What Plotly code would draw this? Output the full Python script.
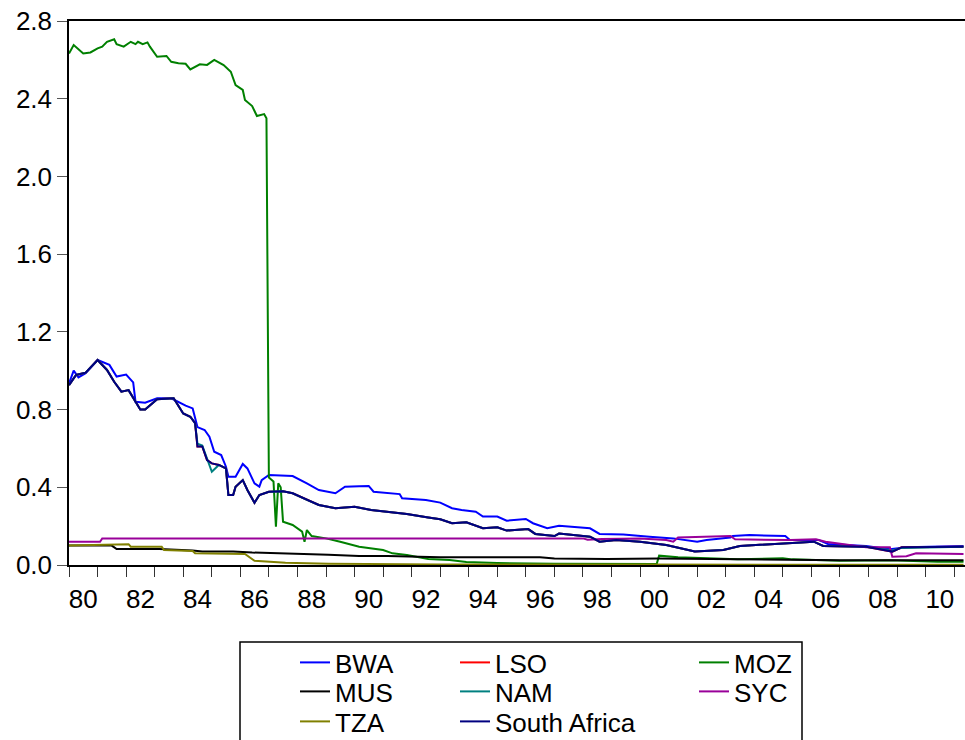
import plotly.graph_objects as go

# ---------------- data ----------------
BWA_DATES = ["1980-01", "1980-03", "1980-05", "1980-08", "1981-01", "1981-06", "1981-09", "1982-01",
             "1982-04", "1982-05", "1982-09", "1983-02", "1983-08", "1984-02", "1984-05", "1984-07",
             "1984-10", "1984-12", "1985-02", "1985-05", "1985-07", "1985-08", "1985-11", "1986-02",
             "1986-04", "1986-07", "1986-09", "1986-10", "1987-01", "1987-11", "1988-05", "1988-10",
             "1989-05", "1989-09", "1990-03", "1990-07", "1990-09", "1991-08", "1991-09", "1992-07",
             "1993-01", "1993-06", "1993-10", "1994-04", "1994-07", "1995-01", "1995-05", "1996-01",
             "1996-04", "1996-10", "1997-03", "1998-04", "1998-08", "1999-06", "2000-05", "2001-03",
             "2002-01", "2002-05", "2003-03", "2003-04", "2003-11", "2005-02", "2005-04", "2006-04",
             "2006-08", "2007-12", "2008-10", "2009-05", "2011-05"]
BWA = [0.935, 1.000, 0.966, 0.987, 1.055, 1.030, 0.970, 0.980,
       0.940, 0.840, 0.835, 0.858, 0.858, 0.820, 0.806, 0.710,
       0.695, 0.660, 0.583, 0.566, 0.506, 0.454, 0.454, 0.520,
       0.497, 0.420, 0.403, 0.437, 0.463, 0.458, 0.420, 0.386,
       0.369, 0.403, 0.405, 0.407, 0.377, 0.365, 0.343, 0.335,
       0.321, 0.292, 0.283, 0.274, 0.249, 0.249, 0.228, 0.237,
       0.215, 0.189, 0.202, 0.189, 0.160, 0.157, 0.146, 0.137,
       0.120, 0.129, 0.142, 0.149, 0.154, 0.149, 0.129, 0.129,
       0.108, 0.098, 0.081, 0.091, 0.098]

SA_DATES = ["1980-01", "1980-04", "1980-08", "1981-01", "1981-05", "1981-08", "1981-11", "1982-02",
            "1982-07", "1982-09", "1983-02", "1983-09", "1984-01", "1984-04", "1984-06", "1984-07",
            "1984-09", "1984-11", "1985-01", "1985-04", "1985-07", "1985-08", "1985-10", "1985-11",
            "1986-02", "1986-04", "1986-07", "1986-09", "1987-01", "1987-07", "1987-11", "1988-05",
            "1988-10", "1989-05", "1990-01", "1990-08", "1991-11", "1992-08", "1993-01", "1993-06",
            "1993-12", "1994-07", "1995-01", "1995-05", "1996-02", "1996-05", "1997-01", "1997-03",
            "1998-04", "1998-08", "1999-03", "2000-01", "2000-12", "2001-12", "2002-12", "2003-07",
            "2004-11", "2006-02", "2006-06", "2007-12", "2008-11", "2009-03", "2011-05"]
SOUTH_AFRICA = [0.926, 0.978, 0.990, 1.055, 1.004, 0.943, 0.892, 0.900,
                0.800, 0.800, 0.853, 0.858, 0.780, 0.763, 0.730, 0.610,
                0.610, 0.540, 0.523, 0.515, 0.497, 0.360, 0.360, 0.403,
                0.437, 0.386, 0.320, 0.360, 0.377, 0.380, 0.369, 0.335,
                0.309, 0.292, 0.300, 0.283, 0.262, 0.245, 0.235, 0.215,
                0.220, 0.189, 0.194, 0.177, 0.185, 0.160, 0.149, 0.162,
                0.146, 0.120, 0.129, 0.120, 0.103, 0.069, 0.077, 0.098,
                0.111, 0.120, 0.098, 0.094, 0.069, 0.091, 0.094]
LSO = [0.926, 0.978, 0.990, 1.055, 1.004, 0.943, 0.892, 0.900,
       0.800, 0.800, 0.853, 0.858, 0.780, 0.763, 0.730, 0.610,
       0.610, 0.540, 0.523, 0.515, 0.497, 0.360, 0.360, 0.403,
       0.437, 0.386, 0.320, 0.360, 0.377, 0.380, 0.369, 0.335,
       0.309, 0.292, 0.300, 0.283, 0.262, 0.245, 0.235, 0.215,
       0.220, 0.189, 0.194, 0.177, 0.185, 0.160, 0.149, 0.162,
       0.146, 0.120, 0.129, 0.120, 0.103, 0.069, 0.077, 0.098,
       0.111, 0.120, 0.098, 0.094, 0.069, 0.091, 0.094]
NAM = [0.926, 0.978, 0.990, 1.055, 1.004, 0.943, 0.892, 0.900,
       0.800, 0.800, 0.853, 0.858, 0.780, 0.763, 0.730, 0.625,
       0.615, 0.550, 0.480, 0.515, 0.497, 0.360, 0.360, 0.403,
       0.437, 0.386, 0.320, 0.360, 0.377, 0.380, 0.369, 0.335,
       0.309, 0.292, 0.300, 0.283, 0.262, 0.245, 0.235, 0.215,
       0.220, 0.189, 0.194, 0.177, 0.185, 0.160, 0.149, 0.162,
       0.146, 0.120, 0.129, 0.120, 0.103, 0.069, 0.077, 0.098,
       0.111, 0.120, 0.098, 0.094, 0.075, 0.088, 0.094]

MOZ_DATES = ["1980-01", "1980-03", "1980-07", "1980-10", "1981-01", "1981-03", "1981-05", "1981-08",
             "1981-09", "1981-12", "1982-03", "1982-05", "1982-06", "1982-08", "1982-10", "1982-11",
             "1983-02", "1983-06", "1983-08", "1983-11", "1984-02", "1984-04", "1984-08", "1984-11",
             "1985-02", "1985-06", "1985-09", "1985-11", "1986-02", "1986-03", "1986-06", "1986-08",
             "1986-11", "1986-12", "1987-01", "1987-02", "1987-03", "1987-04", "1987-05", "1987-06",
             "1987-07", "1987-11", "1988-03", "1988-04", "1988-05", "1988-07", "1989-01", "1989-07",
             "1990-03", "1991-01", "1991-05", "1991-11", "1992-08", "1993-05", "1993-12", "1995-01",
             "1997-01", "2000-08", "2000-09", "2001-05", "2003-06", "2005-01", "2005-05", "2007-01",
             "2008-10", "2010-06", "2011-05"]
MOZ = [2.633, 2.676, 2.633, 2.638, 2.659, 2.668, 2.693, 2.706,
       2.681, 2.668, 2.693, 2.681, 2.693, 2.681, 2.690, 2.668,
       2.616, 2.620, 2.590, 2.582, 2.580, 2.551, 2.577, 2.574,
       2.600, 2.573, 2.539, 2.470, 2.445, 2.393, 2.362, 2.311,
       2.321, 2.299, 0.450, 0.440, 0.430, 0.197, 0.420, 0.400,
       0.223, 0.206, 0.172, 0.120, 0.180, 0.149, 0.137, 0.120,
       0.094, 0.077, 0.060, 0.051, 0.031, 0.026, 0.015, 0.010,
       0.006, 0.005, 0.048, 0.040, 0.029, 0.035, 0.029, 0.022,
       0.025, 0.017, 0.017]

MUS_DATES = ["1980-01", "1981-07", "1981-09", "1983-03", "1984-05", "1984-09", "1985-10", "1986-06",
             "1989-02", "1990-03", "1991-03", "1993-01", "1996-07", "1997-01", "1998-11", "2000-09",
             "2003-06", "2007-01", "2011-05"]
MUS = [0.100, 0.100, 0.082, 0.082, 0.074, 0.069, 0.069, 0.064,
       0.053, 0.046, 0.046, 0.040, 0.040, 0.034, 0.031, 0.034,
       0.030, 0.024, 0.024]

TZA_DATES = ["1980-01", "1981-07", "1982-02", "1982-03", "1983-04", "1983-05", "1984-05", "1984-06",
             "1986-03", "1986-07", "1987-08", "1989-02", "1990-03", "1993-01", "2000-01", "2011-05"]
TZA = [0.100, 0.105, 0.107, 0.094, 0.094, 0.077, 0.072, 0.060,
       0.057, 0.022, 0.012, 0.007, 0.005, 0.003, 0.002, 0.001]

SYC_DATES = ["1980-01", "1981-02", "1981-03", "1998-01", "1998-03", "1998-09", "2000-01", "2000-12",
             "2001-03", "2001-05", "2003-03", "2003-05", "2005-04", "2006-03", "2006-07", "2007-12",
             "2008-10", "2008-11", "2009-05", "2009-09", "2011-05"]
SYC = [0.120, 0.120, 0.137, 0.137, 0.130, 0.134, 0.137, 0.129,
       0.120, 0.142, 0.149, 0.132, 0.129, 0.132, 0.120, 0.091,
       0.091, 0.043, 0.045, 0.060, 0.057]

Y_TICKS = [0.0, 0.4, 0.8, 1.2, 1.6, 2.0, 2.4, 2.8]
X_LABEL_YEARS = list(range(1980, 2011, 2))
X_LABELS = ["80", "82", "84", "86", "88", "90", "92", "94", "96", "98",
            "00", "02", "04", "06", "08", "10"]

# ---------------- figure ----------------
FONT = "Arial, 'Liberation Sans', sans-serif"
FS = 26
W, H = 965, 740
L, T, B = 69, 21, 175

pw = W - L
ph = H - T - B


def px_to_paper_x(px):
    return (px - L) / pw


def px_to_paper_y(py):
    return (H - B - py) / ph


# legend grid (3 columns x 3 rows), as in the reference box
COL_TEXT_X = [335, 495, 734]
ROW_CENTER_Y = [663, 692, 722]

series = [
    ("BWA", BWA_DATES, BWA, "#0000FF", 0, 0),
    ("LSO", SA_DATES, LSO, "#FF0000", 1, 0),
    ("MOZ", MOZ_DATES, MOZ, "#008000", 2, 0),
    ("MUS", MUS_DATES, MUS, "#000000", 0, 1),
    ("NAM", SA_DATES, NAM, "#008080", 1, 1),
    ("SYC", SYC_DATES, SYC, "#990099", 2, 1),
    ("TZA", TZA_DATES, TZA, "#808000", 0, 2),
    ("South Africa", SA_DATES, SOUTH_AFRICA, "#000080", 1, 2),
]

fig = go.Figure()
legends = {}
for i, (name, d, v, c, col, row) in enumerate(series):
    lg = "legend" if i == 0 else f"legend{i + 1}"
    fig.add_trace(go.Scatter(x=d, y=v, mode="lines", name=name,
                             line=dict(color=c, width=2.0), legend=lg))
    legends[lg] = dict(
        orientation="v", bgcolor="rgba(0,0,0,0)", borderwidth=0,
        font=dict(family=FONT, size=FS, color="black"),
        xanchor="left", yanchor="top",
        x=px_to_paper_x(COL_TEXT_X[col] - 40),
        y=px_to_paper_y(ROW_CENTER_Y[row] - 24),
    )

fig.update_layout(
    width=W, height=H,
    margin=dict(l=L, r=0, t=T, b=B, pad=0, autoexpand=False),
    paper_bgcolor="white", plot_bgcolor="white",
    font=dict(family=FONT, size=FS, color="black"),
    showlegend=True,
    **legends,
    xaxis=dict(
        type="date",
        range=["1980-01-01", "2011-05-20"],
        automargin=False,
        showgrid=False, zeroline=False,
        showline=True, linecolor="black", linewidth=1.5, mirror=True,
        tickmode="array",
        tickvals=[f"{y}-07-02" for y in X_LABEL_YEARS],
        ticktext=X_LABELS,
        ticks="outside", ticklen=10, tickcolor="rgba(0,0,0,0)",
        tickfont=dict(family=FONT, size=FS, color="black"),
        minor=dict(ticks="outside", ticklen=10, tickwidth=1.2, tickcolor="#333333",
                   tick0="1980-01-01", dtick="M12", showgrid=False),
    ),
    yaxis=dict(
        range=[0, 2.8],
        automargin=False,
        showgrid=False, zeroline=False,
        showline=True, linecolor="black", linewidth=1.5,
        tickmode="array", tickvals=Y_TICKS,
        ticktext=[f"{v:.1f}" for v in Y_TICKS],
        ticks="outside", ticklen=10, tickwidth=1.2, tickcolor="#555555",
        tickfont=dict(family=FONT, size=FS, color="black"),
    ),
    shapes=[dict(type="rect", xref="paper", yref="paper",
                 x0=px_to_paper_x(240), x1=px_to_paper_x(802),
                 y0=px_to_paper_y(760), y1=px_to_paper_y(642),
                 line=dict(color="black", width=1.5), fillcolor="rgba(0,0,0,0)",
                 layer="above")],
)

fig.write_html(
    "out.html",
    config={"displayModeBar": False},
    post_script="document.body.style.margin='0px';document.body.style.overflow='hidden';",
)
